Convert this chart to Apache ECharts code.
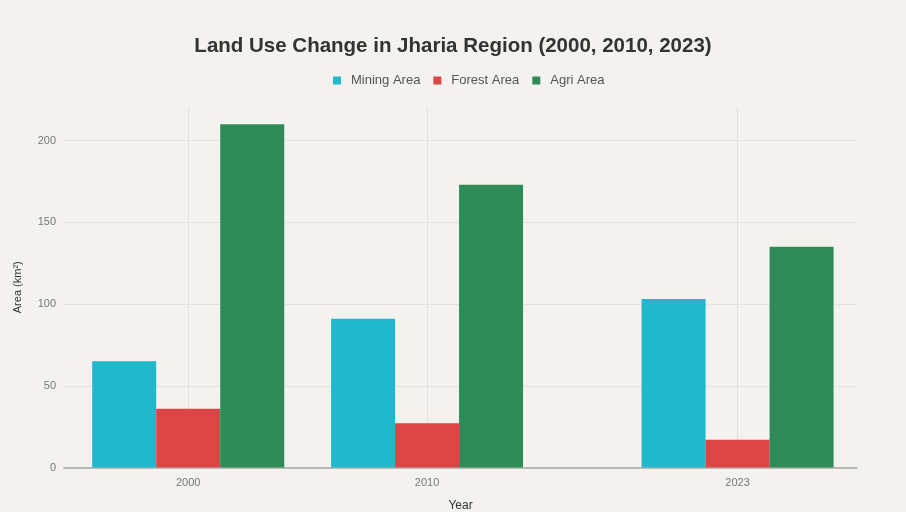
<!DOCTYPE html>
<html>
<head>
<meta charset="utf-8">
<script src="https://cdn.jsdelivr.net/npm/echarts@6/dist/echarts.min.js"></script>
<style>
  html, body { margin: 0; padding: 0; background: #F3F2EE; }
  #chart { width: 906px; height: 512px; }
</style>
</head>
<body>
<div id="chart"></div>
<script>
// Land use areas (km²) for the Jharia coalfield region
const years = [2000, 2010, 2023];
const miningArea = [65, 91, 103];
const forestArea = [36, 27, 17];
const agriArea = [210, 173, 135];
const yTicks = [0, 50, 100, 150, 200];

const seriesNames = ['Mining Area', 'Forest Area', 'Agri Area'];
const seriesColors = ['#1FB8CD', '#DB4545', '#2E8B57'];
const seriesValues = [miningArea, forestArea, agriArea];

const chart = echarts.init(document.getElementById('chart'));

const textFont = 'Liberation Sans';

chart.setOption({
  backgroundColor: '#F3F2EE',
  animation: false,
  title: {
    text: 'Land Use Change in Jharia Region (2000, 2010, 2023)',
    left: 'center',
    top: 31,
    textStyle: { fontFamily: textFont, fontSize: 20.5, fontWeight: 'bold', color: '#333333' }
  },
  legend: {
    data: seriesNames,
    top: 69,
    left: 328,
    itemWidth: 8,
    itemHeight: 8,
    itemGap: 13,
    icon: 'rect',
    textStyle: { fontFamily: textFont, fontSize: 13, color: '#555555', padding: [0, 0, 0, 5] }
  },
  grid: {
    left: 64, width: 793, top: 107, height: 360.5,
    containLabel: false, outerBoundsMode: 'none'
  },
  xAxis: {
    type: 'value',
    min: 1994.8,
    max: 2028.0,
    name: 'Year',
    nameLocation: 'middle',
    nameGap: 32,
    nameTextStyle: { fontFamily: textFont, fontSize: 12, color: '#333333' },
    axisLine: { show: true, onZero: true, lineStyle: { color: '#A8A8A8', width: 1.5 } },
    axisTick: { show: false, customValues: years },
    axisLabel: {
      customValues: years,
      fontFamily: textFont, fontSize: 11, color: '#777777', margin: 10,
      formatter: v => String(v)
    },
    splitLine: { show: true, customValues: years, lineStyle: { color: '#E2E1DC', width: 1 } }
  },
  yAxis: {
    type: 'value',
    min: 0,
    max: 220.5,
    name: 'Area (km²)',
    nameLocation: 'middle',
    nameGap: 41,
    nameRotate: 90,
    nameTextStyle: { fontFamily: textFont, fontSize: 11, color: '#333333' },
    axisLine: { show: false },
    axisTick: { show: false, customValues: yTicks },
    axisLabel: {
      customValues: yTicks,
      fontFamily: textFont, fontSize: 11, color: '#777777', margin: 8
    },
    splitLine: { show: true, customValues: yTicks, lineStyle: { color: '#E2E1DC', width: 1 } }
  },
  series: seriesNames.map((name, i) => ({
    name: name,
    type: 'bar',
    barWidth: 64,
    barGap: '0%',
    itemStyle: { color: seriesColors[i] },
    data: years.map((y, j) => [y, seriesValues[i][j]])
  }))
});
</script>
</body>
</html>
